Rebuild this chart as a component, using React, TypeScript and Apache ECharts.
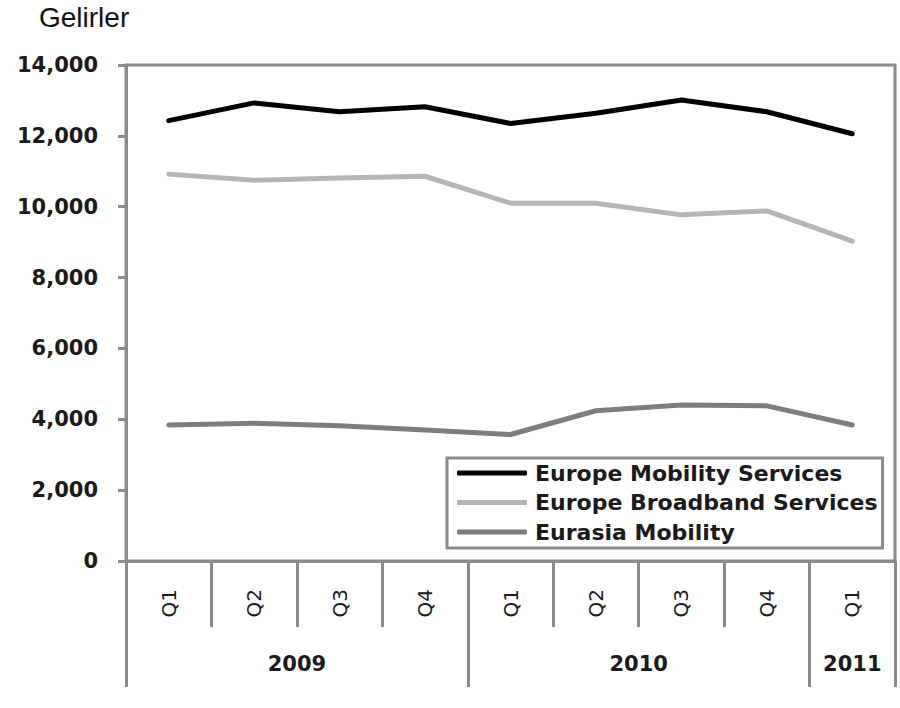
import React, { useEffect, useRef } from "react";
import * as echarts from "echarts";

const quarters = ["Q1", "Q2", "Q3", "Q4", "Q1", "Q2", "Q3", "Q4", "Q1"];
const years = ["2009", "2010", "2011"];
const yearSpans = [4, 4, 1];
const seriesNames = ["Europe Mobility Services", "Europe Broadband Services", "Eurasia Mobility"];
const europeMobility = [12430, 12930, 12680, 12820, 12350, 12640, 13010, 12680, 12060];
const europeBroadband = [10920, 10750, 10810, 10860, 10100, 10100, 9770, 9880, 9030];
const eurasiaMobility = [3840, 3890, 3820, 3700, 3570, 4240, 4400, 4380, 3840];

const GRAY = "#8a8a8a";
const TEXT = "#1a1a1a";
const FONT = "'DejaVu Sans', sans-serif";

export default function App() {
  const ref = useRef<HTMLDivElement>(null);

  useEffect(() => {
    if (!ref.current) return;
    const chart = echarts.init(ref.current, null, { renderer: "svg" });

    const boundaries: number[] = [0];
    const centers: number[] = [];
    yearSpans.forEach((s) => {
      const start = boundaries[boundaries.length - 1];
      centers.push(start + s / 2);
      boundaries.push(start + s);
    });

    const lineSeries = (name: string, data: number[], color: string) => ({
      name,
      type: "line",
      data,
      xAxisIndex: 0,
      yAxisIndex: 0,
      symbol: "none",
      smooth: false,
      itemStyle: { color },
      lineStyle: { color, width: 5, cap: "round", join: "round" },
    });

    chart.setOption({
      animation: false,
      backgroundColor: "#ffffff",
      title: {
        text: "Gelirler",
        left: 39,
        top: 3,
        padding: 0,
        textStyle: {
          fontFamily: "'Liberation Sans', Arial, sans-serif",
          fontSize: 28,
          fontWeight: "normal",
          color: "#111",
        },
      },
      grid: {
        left: 126,
        top: 65,
        right: 5,
        bottom: 147,
        show: true,
        borderColor: GRAY,
        borderWidth: 3,
        backgroundColor: "transparent",
      },
      legend: {
        orient: "vertical",
        left: 447,
        top: 458,
        data: seriesNames.map((name) => ({ name, icon: "roundRect" })),
        itemWidth: 70,
        itemHeight: 5,
        itemGap: 7.5,
        padding: [4, 5, 5, 10],
        borderColor: GRAY,
        borderWidth: 3,
        backgroundColor: "#ffffff",
        textStyle: {
          fontFamily: FONT,
          fontWeight: "bold",
          fontSize: 22,
          lineHeight: 22,
          color: TEXT,
          padding: [0, 0, 0, 3],
        },
      },
      xAxis: [
        {
          type: "category",
          data: quarters,
          boundaryGap: true,
          position: "bottom",
          axisLine: { show: true, lineStyle: { color: GRAY, width: 3 } },
          axisTick: {
            show: true,
            interval: 0,
            length: 66,
            lineStyle: { color: GRAY, width: 3 },
          },
          axisLabel: {
            interval: 0,
            rotate: 90,
            margin: 28,
            fontFamily: FONT,
            fontWeight: "normal",
            fontSize: 20,
            color: TEXT,
          },
          splitLine: { show: false },
        },
        {
          type: "value",
          min: 0,
          max: quarters.length,
          position: "bottom",
          axisLine: { show: false },
          axisTick: {
            show: true,
            customValues: boundaries,
            length: 126,
            lineStyle: { color: GRAY, width: 3 },
          },
          axisLabel: {
            show: true,
            customValues: centers,
            margin: 92,
            fontFamily: FONT,
            fontWeight: "bold",
            fontSize: 21,
            color: TEXT,
            formatter: (v: number) => {
              const i = centers.findIndex((c) => Math.abs(c - v) < 1e-6);
              return i >= 0 ? years[i] : "";
            },
          },
          splitLine: { show: false },
        },
      ],
      yAxis: {
        type: "value",
        min: 0,
        max: 14000,
        interval: 2000,
        axisLine: { show: true, lineStyle: { color: GRAY, width: 3 } },
        axisTick: { show: true, length: 8, lineStyle: { color: GRAY, width: 3 } },
        axisLabel: {
          margin: 28,
          fontFamily: FONT,
          fontWeight: "bold",
          fontSize: 21,
          color: TEXT,
          formatter: (v: number) => v.toLocaleString("en-US"),
        },
        splitLine: { show: false },
      },
      series: [
        lineSeries(seriesNames[0], europeMobility, "#000000"),
        lineSeries(seriesNames[1], europeBroadband, "#b5b5b5"),
        lineSeries(seriesNames[2], eurasiaMobility, "#7d7d7d"),
      ],
    });

    return () => chart.dispose();
  }, []);

  return (
    <div
      ref={ref}
      style={{ position: "absolute", left: 0, top: 0, width: 900, height: 708 }}
    />
  );
}
